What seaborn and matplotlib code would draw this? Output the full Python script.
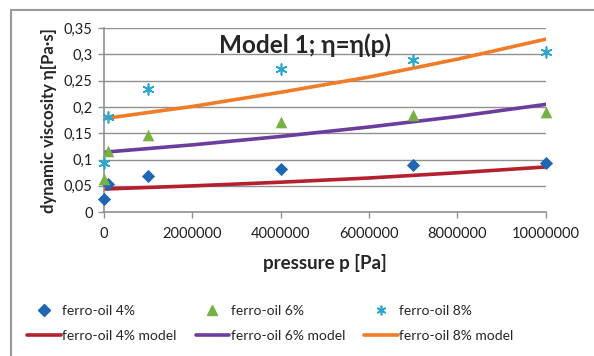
import pandas as pd
import numpy as np
import matplotlib.pyplot as plt
from matplotlib.patches import Rectangle
from matplotlib.lines import Line2D
import seaborn as sns

# measured points
pressure = [0, 100000, 1000000, 4000000, 7000000, 10000000]
visc_4 = [0.025, 0.053, 0.068, 0.082, 0.089, 0.093]
visc_6 = [0.063, 0.116, 0.146, 0.171, 0.184, 0.190]
visc_8 = [0.093, 0.181, 0.234, 0.272, 0.289, 0.305]

# model curves
p_model = [0, 2000000, 4000000, 6000000, 8000000, 10000000]
model_4 = [0.044, 0.050, 0.057, 0.065, 0.075, 0.086]
model_6 = [0.114, 0.128, 0.144, 0.162, 0.182, 0.205]
model_8 = [0.178, 0.201, 0.228, 0.257, 0.291, 0.329]

pts = pd.DataFrame({
    "p": pressure * 3,
    "eta": visc_4 + visc_6 + visc_8,
    "series": ["ferro-oil 4%"] * 6 + ["ferro-oil 6%"] * 6 + ["ferro-oil 8%"] * 6,
})
mdl = pd.DataFrame({
    "p": p_model * 3,
    "eta": model_4 + model_6 + model_8,
    "series": ["ferro-oil 4% model"] * 6 + ["ferro-oil 6% model"] * 6 + ["ferro-oil 8% model"] * 6,
})

sns.set_style("white")
plt.rcParams['font.family'] = ['Lato', 'DejaVu Sans']

fig = plt.figure(figsize=(5.94, 3.56), dpi=100)
ax = fig.add_axes([0.175, 0.404, 0.744, 0.517])

fig.patches.append(Rectangle((11 / 594, -0.1), 1.2, 1 - 10 / 356 + 0.1, transform=fig.transFigure,
                             fill=False, edgecolor="#9a9a9a", lw=1.5))

line_pal = {"ferro-oil 4% model": "#b5202e", "ferro-oil 6% model": "#6a3d9e",
            "ferro-oil 8% model": "#f07c28"}
sns.lineplot(data=mdl, x="p", y="eta", hue="series", palette=line_pal, lw=2.6, ax=ax, legend=False)

pt_pal = {"ferro-oil 4%": "#1f67b4", "ferro-oil 6%": "#77b043", "ferro-oil 8%": "#2aa6cf"}
marks = {"ferro-oil 4%": "D", "ferro-oil 6%": "^", "ferro-oil 8%": (6, 2, 0)}
sizes = {"ferro-oil 4%": 45, "ferro-oil 6%": 70, "ferro-oil 8%": 60}
for name, grp in pts.groupby("series"):
    sns.scatterplot(data=grp, x="p", y="eta", color=pt_pal[name], marker=marks[name],
                    s=sizes[name], linewidth=1.2 if name == "ferro-oil 8%" else 0,
                    edgecolor=pt_pal[name], ax=ax, zorder=5, clip_on=False)

ax.set_xlim(0, 10000000)
ax.set_ylim(0, 0.35)
ax.set_xticks(range(0, 10000001, 2000000))
ax.set_xticklabels([str(v) for v in range(0, 10000001, 2000000)])
yt = np.arange(0, 0.351, 0.05)
ax.set_yticks(yt)
ax.set_yticklabels(["0", "0,05", "0,1", "0,15", "0,2", "0,25", "0,3", "0,35"])
ax.tick_params(axis="both", labelsize=10.5, length=4, width=1, direction="out",
               bottom=True, left=True, colors="#909090", labelcolor="#202020")
ax.tick_params(axis="x", pad=7)
ax.tick_params(axis="y", pad=4)
ax.yaxis.grid(True, color="#909090", lw=1)
for s in ["top", "right"]:
    ax.spines[s].set_visible(False)
for s in ["left", "bottom"]:
    ax.spines[s].set_color("#909090")
    ax.spines[s].set_linewidth(1.2)

ax.set_xlabel("pressure p [Pa]", fontsize=13.5, fontweight="bold", labelpad=9)
ax.set_ylabel("dynamic viscosity η[Pa·s]", fontsize=12, fontweight="bold", labelpad=5)
ax.text(0.455, 0.905, "Model 1; η=η(p)", transform=ax.transAxes, fontsize=17.5, fontweight="bold",
        ha="center", va="center")

handles = [
    Line2D([], [], ls="", marker="D", color=pt_pal["ferro-oil 4%"], ms=6),
    Line2D([], [], color=line_pal["ferro-oil 4% model"], lw=2.6),
    Line2D([], [], ls="", marker="^", color=pt_pal["ferro-oil 6%"], ms=7),
    Line2D([], [], color=line_pal["ferro-oil 6% model"], lw=2.6),
    Line2D([], [], ls="", marker=(6, 2, 0), color=pt_pal["ferro-oil 8%"], ms=7, mew=1.2),
    Line2D([], [], color=line_pal["ferro-oil 8% model"], lw=2.6),
]
labels = ["ferro-oil 4%", "ferro-oil 4% model", "ferro-oil 6%", "ferro-oil 6% model",
          "ferro-oil 8%", "ferro-oil 8% model"]
fig.legend(handles, labels, ncol=3, loc="center", bbox_to_anchor=(0.455, 0.091), frameon=False,
           fontsize=10, handlelength=2.4, handletextpad=0.1, columnspacing=1.4, labelspacing=0.95)

fig.savefig("out.png", dpi=100)
